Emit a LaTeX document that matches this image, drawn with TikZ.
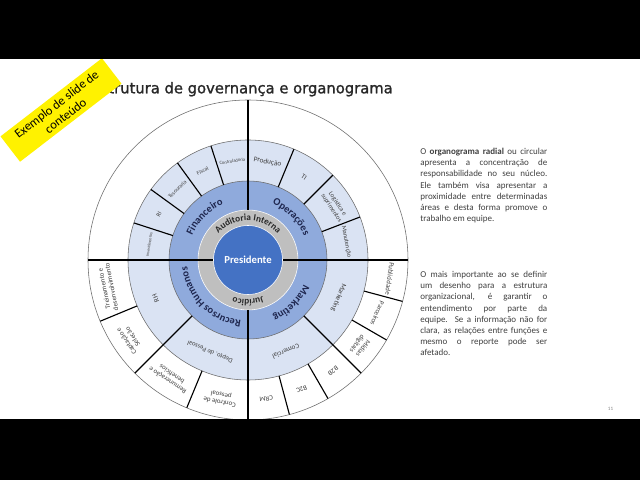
\documentclass[tikz,border=0pt]{standalone}
\usepackage{fontspec}
\setmainfont{Carlito}
\newfontfamily\titlefamily[FakeBold=1.3]{DejaVu Sans}
\usetikzlibrary{decorations.text}

\definecolor{presblue}{RGB}{68,114,196}
\definecolor{midblue}{RGB}{143,170,220}
\definecolor{lightblue}{RGB}{218,227,243}
\definecolor{ringgray}{RGB}{191,191,191}
\definecolor{navytext}{RGB}{30,38,78}
\definecolor{bodytext}{RGB}{64,64,64}
\definecolor{titlegray}{RGB}{40,40,40}

\newcommand{\midfont}{\fontsize{7.4}{8}\selectfont\bfseries}
\newcommand{\grayfont}{\fontsize{6.6}{8}\selectfont\bfseries}

\begin{document}
\begin{tikzpicture}[
    x=0.025cm, y=0.025cm,
    area/.style={line width=0.4pt, draw=gray!85!black},
    divider/.style={line width=0.8pt, draw=black},
    sublabel/.style={text=bodytext, align=center, inner sep=0pt},
    outerlabel/.style={text=bodytext, align=center, inner sep=0pt,
        font=\fontsize{4.9}{5.4}\selectfont},
    presidente/.style={
        circle,
        fill=presblue,
        draw=white,
        line width=0.4pt,
        minimum size=1.725cm,
        inner sep=0pt,
        text=white,
        font=\fontsize{7.6}{8}\selectfont\bfseries
    },
    textblock/.style={
        text width=3.175cm,
        align=justify,
        inner sep=0pt,
        text=bodytext,
        font=\fontsize{6.4}{7.95}\selectfont
    },
    notebox/.style={
        rectangle,
        fill=yellow,
        minimum width=3.2cm,
        minimum height=0.8cm,
        inner sep=0pt,
        align=center,
        font=\fontsize{9}{10.4}\selectfont
    },
    titletext/.style={text=titlegray, inner sep=0pt, font=\titlefamily\fontsize{10.5}{12}\selectfont},
    pagenum/.style={text=gray, inner sep=0pt, font=\fontsize{3.6}{4}\selectfont}
]
\useasboundingbox (0,0) rectangle (640,480);
\fill[white] (0,0) rectangle (640,480);

% Titulo
\node[titletext, anchor=base east] (titulo) at (393,386.7) {Estrutura de governança e organograma};

% Aneis
\coordinate (ctr) at (248,220);
\draw[area, fill=white] (ctr) circle[radius=160];
\draw[area, fill=lightblue] (ctr) circle[radius=120];
\draw[area, fill=midblue] (ctr) circle[radius=79];
\draw[area, draw=white, fill=ringgray] (ctr) circle[radius=50];

% Divisoes principais
\draw[divider] ([shift={(90:50)}]ctr) -- ([shift={(90:160)}]ctr);
\draw[divider] ([shift={(270:50)}]ctr) -- ([shift={(270:160)}]ctr);
\draw[divider] ([shift={(180:34)}]ctr) -- ([shift={(180:160)}]ctr);
\draw[divider] ([shift={(0:34)}]ctr) -- ([shift={(0:160)}]ctr);

% Divisoes do anel claro
\draw[divider] ([shift={(108:79)}]ctr) -- ([shift={(108:120)}]ctr);
\draw[divider] ([shift={(126:79)}]ctr) -- ([shift={(126:120)}]ctr);
\draw[divider] ([shift={(144:79)}]ctr) -- ([shift={(144:120)}]ctr);
\draw[divider] ([shift={(162:79)}]ctr) -- ([shift={(162:120)}]ctr);
\draw[divider] ([shift={(67.5:79)}]ctr) -- ([shift={(67.5:120)}]ctr);
\draw[divider] ([shift={(45:79)}]ctr) -- ([shift={(45:120)}]ctr);
\draw[divider] ([shift={(21:79)}]ctr) -- ([shift={(21:120)}]ctr);
\draw[divider] ([shift={(225:79)}]ctr) -- ([shift={(225:160)}]ctr);
\draw[divider] ([shift={(315:79)}]ctr) -- ([shift={(315:160)}]ctr);

% Divisoes do anel externo
\draw[divider] ([shift={(202.5:120)}]ctr) -- ([shift={(202.5:160)}]ctr);
\draw[divider] ([shift={(247.5:120)}]ctr) -- ([shift={(247.5:160)}]ctr);
\draw[divider] ([shift={(285:120)}]ctr) -- ([shift={(285:160)}]ctr);
\draw[divider] ([shift={(300:120)}]ctr) -- ([shift={(300:160)}]ctr);
\draw[divider] ([shift={(330:120)}]ctr) -- ([shift={(330:160)}]ctr);
\draw[divider] ([shift={(345:120)}]ctr) -- ([shift={(345:160)}]ctr);

% Centro
\node[presidente] (presidente) at (ctr) {Presidente};

% Anel cinza
\path[decorate, decoration={text along path, text align=center, text color=titlegray,
    text={|\grayfont|Auditoria Interna}}] ([shift={(180:39.5)}]ctr) arc[start angle=180, end angle=0, radius=39.5];
\path[decorate, decoration={text along path, text align=center, text color=titlegray,
    text={|\grayfont|Jurídico}}] ([shift={(0:39.5)}]ctr) arc[start angle=0, end angle=-180, radius=39.5];

% Areas principais
\path[decorate, decoration={text along path, text align=center, text color=navytext,
    text={|\midfont|Financeiro}}] ([shift={(180:61)}]ctr) arc[start angle=180, end angle=90, radius=61];
\path[decorate, decoration={text along path, text align=center, text color=navytext,
    text={|\midfont|Operações}}] ([shift={(90:61)}]ctr) arc[start angle=90, end angle=0, radius=61];
\path[decorate, decoration={text along path, text align=center, text color=navytext,
    text={|\midfont|Marketing}}] ([shift={(0:61)}]ctr) arc[start angle=0, end angle=-90, radius=61];
\path[decorate, decoration={text along path, text align=center, text color=navytext,
    text={|\midfont|Recursos Humanos}}] ([shift={(-90:61)}]ctr) arc[start angle=-90, end angle=-180, radius=61];

% Subareas
\node[sublabel, rotate=9, font=\fontsize{3.3}{4}\selectfont] (controladoria) at ([shift={(99:100)}]ctr) {Controladoria};
\node[sublabel, rotate=27, font=\fontsize{4}{4.5}\selectfont] (fiscal) at ([shift={(117:100)}]ctr) {Fiscal};
\node[sublabel, rotate=45, font=\fontsize{4}{4.5}\selectfont] (tesouraria) at ([shift={(135:100)}]ctr) {Tesouraria};
\node[sublabel, rotate=63, font=\fontsize{4.4}{5}\selectfont] (ri) at ([shift={(153:100)}]ctr) {RI};
\node[sublabel, rotate=81, font=\fontsize{3}{3.5}\selectfont] (investimentos) at ([shift={(171:100)}]ctr) {Investimentos};
\node[sublabel, rotate=-11.25, font=\fontsize{5.2}{6}\selectfont] (producao) at ([shift={(78.75:100)}]ctr) {Produção};
\node[sublabel, rotate=-34, font=\fontsize{5}{6}\selectfont] (ti) at ([shift={(56:100)}]ctr) {TI};
\node[sublabel, rotate=-57, font=\fontsize{4.6}{5.2}\selectfont] (logistica) at ([shift={(32:102)}]ctr) {Logística e\\suprimentos};
\node[sublabel, rotate=-79.5, font=\fontsize{4.5}{5}\selectfont] (manutencao) at ([shift={(10.5:100)}]ctr) {Manutenção};
\node[sublabel, rotate=112.5, font=\fontsize{5}{6}\selectfont] (rh) at ([shift={(202.5:100)}]ctr) {RH};
\node[sublabel, rotate=157.5, font=\fontsize{4.7}{5.5}\selectfont] (pessoal) at ([shift={(247.5:99)}]ctr) {Depto. de Pessoal};
\node[sublabel, rotate=202.5, font=\fontsize{5}{6}\selectfont] (comercial) at ([shift={(292.5:99)}]ctr) {Comercial};
\node[sublabel, rotate=247.5, font=\fontsize{5}{6}\selectfont] (marketing2) at ([shift={(337.5:98)}]ctr) {Marketing};

% Anel externo
\node[outerlabel, rotate=101.25] (treinamento) at ([shift={(191.25:143)}]ctr) {Treinamento e\\desenvolvimento};
\node[outerlabel, rotate=123.75] (captacao) at ([shift={(213.75:142)}]ctr) {Captação e\\Seleção};
\node[outerlabel, rotate=146.25] (remuneracao) at ([shift={(236.25:141)}]ctr) {Remuneração e\\benefícios};
\node[outerlabel, rotate=168.75] (controle) at ([shift={(258.75:141)}]ctr) {Controle de\\pessoal};
\node[outerlabel, rotate=187.5] (crm) at ([shift={(277.5:140)}]ctr) {CRM};
\node[outerlabel, rotate=202.5] (b2c) at ([shift={(292.5:140)}]ctr) {B2C};
\node[outerlabel, rotate=217.5] (b2b) at ([shift={(307.5:140)}]ctr) {B2B};
\node[outerlabel, rotate=232.5] (midias) at ([shift={(322.5:141)}]ctr) {Mídias\\digitais};
\node[outerlabel, rotate=247.5] (parceiros) at ([shift={(337.5:140)}]ctr) {Parceiros};
\node[outerlabel, rotate=262.5] (publicidade) at ([shift={(352.5:143)}]ctr) {Publicidade};

% Texto lateral
\node[textblock, anchor=north west] (paragrafo1) at (420,332) {O \textbf{organograma radial} ou circular\linebreak apresenta a concentração de\linebreak responsabilidade no seu núcleo.\linebreak Ele também visa apresentar a\linebreak proximidade entre determinadas\linebreak áreas e desta forma promove o\linebreak trabalho em equipe.};
\node[textblock, anchor=north west] (paragrafo2) at (420,209) {O mais importante ao se definir\linebreak um desenho para a estrutura\linebreak organizacional, é garantir o\linebreak entendimento por parte da\linebreak equipe. Se a informação não for\linebreak clara, as relações entre funções e\linebreak mesmo o reporte pode ser\linebreak afetado.};

\node[pagenum] (pagina) at (610.5,71) {11};

% Etiqueta amarela
\node[notebox, rotate=37.6] (exemplo) at (61,370) {Exemplo de slide de\\conteúdo};

% Faixas pretas
\fill[black] (0,421) rectangle (640,480);
\fill[black] (0,0) rectangle (640,60.5);
\end{tikzpicture}
\end{document}
